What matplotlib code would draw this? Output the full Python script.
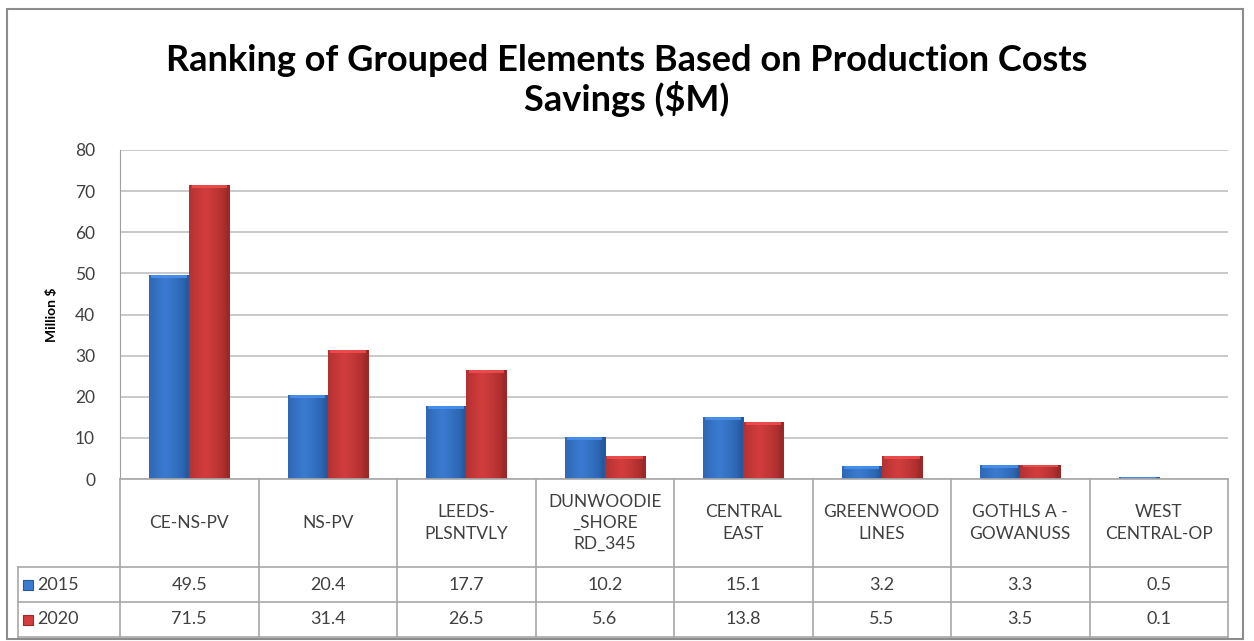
import numpy as np
import matplotlib.pyplot as plt
from matplotlib.colors import to_rgb
from matplotlib.patches import Rectangle

# Production cost savings by grouped element ($M)
categories = ["CE-NS-PV", "NS-PV", "LEEDS-\nPLSNTVLY", "DUNWOODIE\n_SHORE\nRD_345",
              "CENTRAL\nEAST", "GREENWOOD\nLINES", "GOTHLS A -\nGOWANUSS", "WEST\nCENTRAL-OP"]
series = ["2015", "2020"]
vals_2015 = [49.5, 20.4, 17.7, 10.2, 15.1, 3.2, 3.3, 0.5]
vals_2020 = [71.5, 31.4, 26.5, 5.6, 13.8, 5.5, 3.5, 0.1]
yticks = [0, 10, 20, 30, 40, 50, 60, 70, 80]

plt.rcParams['font.family'] = ['Lato', 'DejaVu Sans']
W, H = 1254, 641
fig = plt.figure(figsize=(W / 100, H / 100), dpi=100)

def fx(px):
    return px / W

def fy(py):
    return 1 - py / H

# plot area in pixels
left, right, top, bottom = 120, 1228, 150, 479
ax = fig.add_axes([fx(left), fy(bottom), fx(right - left), fy(top) - fy(bottom)])

base = {"2015": "#3a7bd0", "2020": "#d23d3d"}
dark = {"2015": "#25589e", "2020": "#9c2828"}

def shade_bar(ax, rect, key):
    c1 = np.array(to_rgb(base[key]))
    c0 = np.array(to_rgb(dark[key]))
    t = np.linspace(0, 1, 60)
    prof = np.clip(1 - np.abs(t - 0.4) * 1.9, 0, 1) ** 0.6
    cols = c0[None, :] + (c1 - c0)[None, :] * prof[:, None]
    img = cols[None, :, :]
    x0, w, h = rect.get_x(), rect.get_width(), rect.get_height()
    im = ax.imshow(img, extent=[x0, x0 + w, 0, h], aspect='auto', zorder=3,
                   interpolation='bilinear')
    im.set_clip_path(rect)
    # soft bevel on top
    bev = min(h, 0.7)
    top_rect = Rectangle((x0 + w * 0.06, h - bev), w * 0.88, bev,
                         facecolor=tuple(np.clip(c1 * 1.12 + 0.04, 0, 1)),
                         edgecolor='none', zorder=4, alpha=0.8)
    ax.add_patch(top_rect)

x = np.arange(len(categories))
bw = 0.29
b1 = ax.bar(x - bw / 2, vals_2015, bw, color=base["2015"], edgecolor=dark["2015"], lw=0.6, zorder=2)
b2 = ax.bar(x + bw / 2, vals_2020, bw, color=base["2020"], edgecolor=dark["2020"], lw=0.6, zorder=2)
for r in b1:
    shade_bar(ax, r, "2015")
for r in b2:
    shade_bar(ax, r, "2020")

ax.set_xlim(-0.5, len(categories) - 0.5)
ax.set_ylim(0, 80)
ax.set_yticks(yticks)
ax.set_xticks([])
ax.yaxis.grid(True, color="#c0c0c0", lw=1.2)
ax.set_axisbelow(True)
for s in ["top", "right", "bottom"]:
    ax.spines[s].set_visible(False)
ax.spines["left"].set_color("#a0a0a0")
ax.tick_params(axis='y', length=0, labelsize=12.5, labelcolor="#404040", pad=18)
ax.set_ylabel("Million $", fontsize=10, fontweight='bold', labelpad=12)

fig.suptitle("Ranking of Grouped Elements Based on Production Costs\nSavings ($M)",
             x=0.5, y=fy(44), fontsize=26, fontweight='bold', va='top', linespacing=1.12)

# data table below the axis
line_c = "#a8a8a8"
cw = (right - left) / len(categories)
r0, r1, r2, r3 = 479, 567, 602, 637
tleft = 18
fig.add_artist(plt.Line2D([fx(left), fx(right)], [fy(r0), fy(r0)], color=line_c, lw=1.2))
for yy in (r1, r2, r3):
    fig.add_artist(plt.Line2D([fx(tleft), fx(right)], [fy(yy), fy(yy)], color=line_c, lw=1.2))
for i in range(len(categories) + 1):
    xx = left + i * cw
    fig.add_artist(plt.Line2D([fx(xx), fx(xx)], [fy(r0), fy(r3)], color=line_c, lw=1.2))
fig.add_artist(plt.Line2D([fx(tleft), fx(tleft)], [fy(r1), fy(r3)], color=line_c, lw=1.2))

for i, cat in enumerate(categories):
    cx = left + (i + 0.5) * cw
    fig.text(fx(cx), fy((r0 + r1) / 2), cat, ha='center', va='center', fontsize=12.5,
             color="#404040", linespacing=1.4)
    fig.text(fx(cx), fy((r1 + r2) / 2), f"{vals_2015[i]}", ha='center', va='center',
             fontsize=13, color="#404040")
    fig.text(fx(cx), fy((r2 + r3) / 2), f"{vals_2020[i]}", ha='center', va='center',
             fontsize=13, color="#404040")

for key, (ra, rb) in zip(series, [(r1, r2), (r2, r3)]):
    yc = (ra + rb) / 2
    fig.add_artist(Rectangle((fx(23), fy(yc + 5)), fx(10), fy(yc - 5) - fy(yc + 5),
                             facecolor=base[key], edgecolor=dark[key], lw=0.8))
    fig.text(fx(37), fy(yc), key, ha='left', va='center', fontsize=13, color="#404040")

# outer chart border
fig.add_artist(Rectangle((fx(7), fy(639)), fx(1243 - 7), fy(9) - fy(639), fill=False,
                         edgecolor="#8c8c8c", lw=1.5))

fig.savefig("out.png", dpi=100)
